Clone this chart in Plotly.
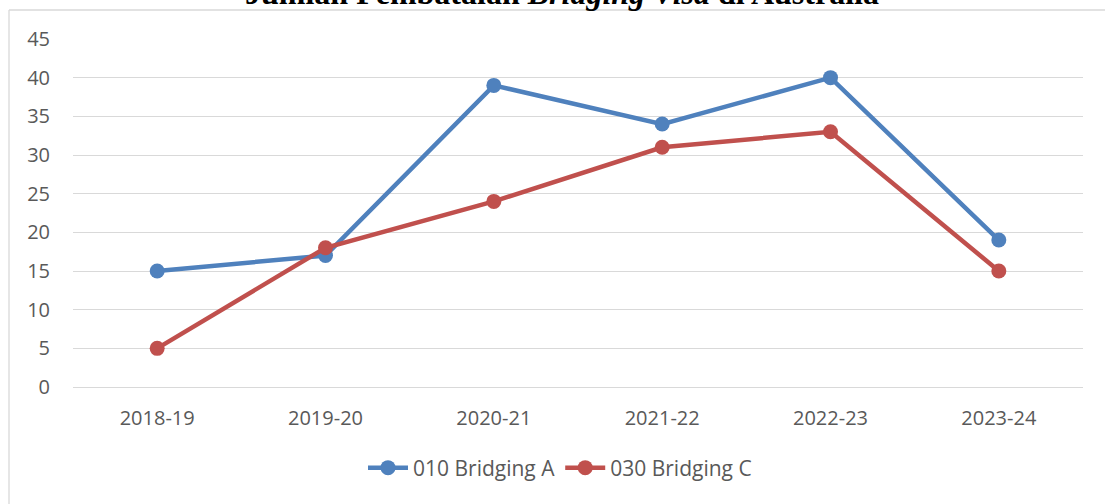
import plotly.graph_objects as go

categories = ["2018-19", "2019-20", "2020-21", "2021-22", "2022-23", "2023-24"]
series_a_name = "010 Bridging A"
series_a = [15, 17, 39, 34, 40, 19]
series_c_name = "030 Bridging C"
series_c = [5, 18, 24, 31, 33, 15]
y_ticks = [0, 5, 10, 15, 20, 25, 30, 35, 40, 45]
title_text = "Jumlah Pembatalan <i>Bridging Visa</i> di Australia"

W, H = 1105, 504
ml, mr, mt, mb = 73, 22, 39, 117
pw, ph = W - ml - mr, H - mt - mb

def px_x(p):
    return (p - ml) / pw

def px_y(p):
    return (H - mb - p) / ph

font_family = "Open Sans, Lato, sans-serif"
tick_color = "#595959"

fig = go.Figure()
fig.add_trace(go.Scatter(
    x=categories, y=series_a, name=series_a_name, mode="lines+markers",
    line=dict(color="#4F81BD", width=4.5),
    marker=dict(color="#4F81BD", size=15),
))
fig.add_trace(go.Scatter(
    x=categories, y=series_c, name=series_c_name, mode="lines+markers",
    line=dict(color="#C0504D", width=4.5),
    marker=dict(color="#C0504D", size=15),
))

fig.update_layout(
    width=W, height=H,
    margin=dict(l=ml, r=mr, t=mt, b=mb),
    paper_bgcolor="white", plot_bgcolor="white",
    font=dict(family=font_family, size=20, color=tick_color),
    showlegend=True,
    legend=dict(orientation="h", x=px_x(560), xanchor="center",
                y=px_y(468), yanchor="middle",
                font=dict(size=21, color=tick_color), itemwidth=40),
    xaxis=dict(type="category", range=[-0.5, 5.5], showgrid=False,
               showline=False, ticks="", tickfont=dict(size=20, color=tick_color),
               ticklabelstandoff=17),
    yaxis=dict(range=[0, 45], tickvals=y_ticks, showgrid=True,
               gridcolor="#D9D9D9", gridwidth=1.3, zeroline=True,
               zerolinecolor="#D9D9D9", zerolinewidth=1.3,
               showline=False, ticks="", ticklabelstandoff=22,
               tickfont=dict(size=20, color=tick_color)),
    shapes=[
        dict(type="line", xref="paper", yref="paper",
             x0=px_x(9), x1=px_x(1200), y0=px_y(10), y1=px_y(10),
             line=dict(color="#D9D9D9", width=1.3)),
        dict(type="line", xref="paper", yref="paper",
             x0=px_x(9), x1=px_x(9), y0=px_y(10), y1=px_y(600),
             line=dict(color="#D9D9D9", width=1.3)),
    ],
    annotations=[
        dict(text="<b>" + title_text + "</b>", xref="paper", yref="paper",
             x=px_x(562), y=px_y(-7), xanchor="center", yanchor="middle",
             showarrow=False,
             font=dict(family="Liberation Serif, Times New Roman, serif",
                       size=32, color="black")),
    ],
)

fig.write_html(
    "out.html",
    config={"displayModeBar": False},
    post_script="document.body.style.margin='0';document.body.style.overflow='hidden';",
)
